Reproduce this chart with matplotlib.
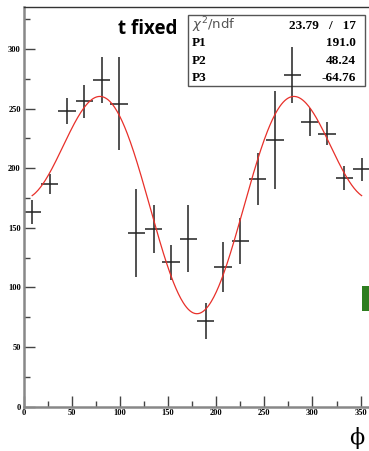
import numpy as np
import matplotlib.pyplot as plt
from matplotlib.patches import Rectangle

# phi bins (centres) and counts
phi = [9, 27, 45, 63, 81, 99, 117, 135, 153, 171,
       189, 207, 225, 243, 261, 279, 297, 315, 333, 351]
counts = [163, 187, 248, 256, 274, 254, 146, 149, 121, 141,
          72, 117, 139, 191, 224, 278, 239, 229, 192, 199]
errors = [10, 8.5, 11, 13.5, 19.5, 39, 37, 20, 15, 28,
          15, 21, 19, 22, 41, 23.5, 11.6, 9.5, 10, 10]
bin_half = 9

# fit parameters: P1 + P2*cos(phi) + P3*cos(2 phi)
p1, p2, p3 = 191.0, 48.24, -64.76
chi2, ndf = 23.79, 17

serif = 'Liberation Serif'

fig = plt.figure(figsize=(3.69, 4.51), dpi=100)
ax = fig.add_axes([0.0637, 0.0982, 0.9398, 0.8856])
ax.patch.set_visible(False)

ax.errorbar(phi, counts, xerr=bin_half, yerr=errors, fmt='none',
            ecolor='#222222', elinewidth=1.1, capsize=0)

xf = np.linspace(phi[0], phi[-1], 400)
yf = p1 + p2 * np.cos(np.radians(xf)) + p3 * np.cos(np.radians(2 * xf))
ax.plot(xf, yf, color='#e8302a', lw=0.9)

ax.set_xlim(0, 360)
ax.set_ylim(0, 335)
ax.set_xticks(np.arange(0, 351, 50))
ax.set_yticks(np.arange(0, 301, 50))
ax.set_xticks(np.arange(0, 360, 25), minor=True)
ax.set_yticks(np.arange(0, 335, 25), minor=True)
ax.tick_params(which='both', direction='in', color='#444444', width=1.0,
               top=False, right=False, pad=2)
ax.tick_params(which='major', length=8)
ax.tick_params(which='minor', length=4)
for lab in ax.get_xticklabels() + ax.get_yticklabels():
    lab.set_family(serif)
    lab.set_fontweight('bold')
    lab.set_fontsize(6)

ax.spines['left'].set_color('#888888')
ax.spines['left'].set_linewidth(1.8)
ax.spines['bottom'].set_color('#888888')
ax.spines['bottom'].set_linewidth(1.8)
ax.spines['top'].set_color('#333333')
ax.spines['top'].set_linewidth(1.0)
ax.spines['right'].set_visible(False)

fig.text(118 / 369, 1 - 34 / 451, 't fixed', fontsize=13.5, fontweight='bold',
         family='Open Sans', ha='left', va='baseline', zorder=-1)

# stats box (drawn beneath the data)
bx0, by0, bw, bh = 188 / 369, 1 - 86 / 451, 177 / 369, 71 / 451
fig.patches.append(Rectangle((bx0, by0), bw, bh, transform=fig.transFigure,
                             facecolor='white', edgecolor='#555555', lw=1.0,
                             zorder=-2))
rows = [(r'$\chi^2$/ndf', f'{chi2:.2f}   /   {ndf}'),
        ('P1', f'{p1:.1f}'),
        ('P2', f'{p2:.2f}'),
        ('P3', f'{p3:.2f}')]
row_y = [29, 46, 64, 81]
for (lbl, val), yy in zip(rows, row_y):
    yfig = 1 - yy / 451
    if lbl.startswith('$'):
        fig.text(192 / 369, yfig, lbl, fontsize=9.5, family='DejaVu Sans',
                 color='#555555', va='baseline', zorder=-1)
    else:
        fig.text(192 / 369, yfig, lbl, fontsize=9.5, family=serif,
                 fontweight='bold', va='baseline', zorder=-1)
    fig.text(356 / 369, yfig, val, fontsize=9.5, family=serif,
             fontweight='bold', ha='right', va='baseline', zorder=-1)

# axis title symbol
fig.text(357 / 369, 1 - 438 / 451, '\u03d5', fontsize=16, family='DejaVu Serif',
         ha='center', va='center')

# green marker cut at the right edge
fig.patches.append(Rectangle((362 / 369, 1 - 311 / 451), 8 / 369, 25 / 451,
                             transform=fig.transFigure, facecolor='#2e7d1f',
                             edgecolor='none'))

fig.savefig('out.png', dpi=100)
